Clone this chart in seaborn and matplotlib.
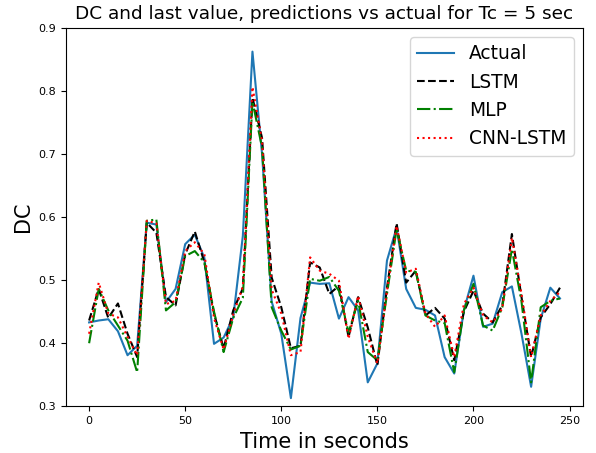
import numpy as np
import pandas as pd
import matplotlib
matplotlib.use('Agg')
import matplotlib.pyplot as plt
import seaborn as sns

# time axis, one point every 5 seconds
time_sec = list(range(0, 250, 5))

actual = [0.433, 0.436, 0.438, 0.419, 0.381, 0.396, 0.591, 0.588, 0.465, 0.486,
          0.557, 0.572, 0.535, 0.399, 0.409, 0.441, 0.570, 0.862, 0.700, 0.466,
          0.415, 0.313, 0.440, 0.496, 0.494, 0.495, 0.439, 0.473, 0.452, 0.338,
          0.368, 0.531, 0.583, 0.486, 0.456, 0.453, 0.444, 0.378, 0.352, 0.452,
          0.507, 0.426, 0.431, 0.481, 0.490, 0.415, 0.331, 0.439, 0.488, 0.471]

lstm = [0.436, 0.486, 0.440, 0.463, 0.415, 0.378, 0.591, 0.575, 0.473, 0.460,
        0.541, 0.577, 0.528, 0.447, 0.392, 0.452, 0.487, 0.789, 0.725, 0.504,
        0.457, 0.392, 0.396, 0.528, 0.520, 0.478, 0.491, 0.410, 0.473, 0.425,
        0.365, 0.488, 0.590, 0.496, 0.515, 0.444, 0.456, 0.439, 0.373, 0.450,
        0.483, 0.447, 0.433, 0.460, 0.573, 0.473, 0.378, 0.441, 0.462, 0.488]

mlp = [0.400, 0.486, 0.452, 0.428, 0.404, 0.354, 0.594, 0.596, 0.452, 0.465,
       0.538, 0.546, 0.528, 0.450, 0.386, 0.440, 0.472, 0.783, 0.710, 0.457,
       0.420, 0.390, 0.396, 0.502, 0.499, 0.505, 0.483, 0.417, 0.467, 0.386,
       0.373, 0.478, 0.581, 0.515, 0.513, 0.444, 0.436, 0.432, 0.354, 0.452,
       0.494, 0.428, 0.420, 0.457, 0.549, 0.466, 0.338, 0.457, 0.467, 0.471]

cnn_lstm = [0.415, 0.496, 0.447, 0.441, 0.410, 0.381, 0.594, 0.590, 0.462, 0.467,
            0.546, 0.560, 0.541, 0.440, 0.390, 0.445, 0.490, 0.806, 0.720, 0.485,
            0.447, 0.381, 0.386, 0.536, 0.515, 0.510, 0.499, 0.407, 0.475, 0.410,
            0.368, 0.483, 0.586, 0.512, 0.518, 0.447, 0.426, 0.444, 0.378, 0.462,
            0.488, 0.444, 0.433, 0.455, 0.567, 0.478, 0.378, 0.444, 0.467, 0.481]

df = pd.DataFrame({'Time': time_sec, 'Actual': actual, 'LSTM': lstm,
                   'MLP': mlp, 'CNN-LSTM': cnn_lstm})

fig, ax = plt.subplots(figsize=(5.96, 4.53), dpi=100)

# one line per series, styled like the original
sns.lineplot(x='Time', y='Actual', data=df, ax=ax, color='#1f77b4', label='Actual')
sns.lineplot(x='Time', y='LSTM', data=df, ax=ax, color='black', linestyle='--', label='LSTM')
sns.lineplot(x='Time', y='MLP', data=df, ax=ax, color='green', linestyle='-.', label='MLP')
sns.lineplot(x='Time', y='CNN-LSTM', data=df, ax=ax, color='red', linestyle=':', label='CNN-LSTM')

ax.set_ylim(0.3, 0.9)
ax.set_xticks([0, 50, 100, 150, 200, 250])
ax.tick_params(labelsize=8)
ax.set_title('DC and last value, predictions vs actual for Tc = 5 sec', fontsize=13.3)
ax.set_xlabel('Time in seconds', fontsize=15)
ax.set_ylabel('DC', fontsize=15)
ax.legend(loc='upper right', fontsize=13.4)

plt.subplots_adjust(left=0.11, right=0.979, top=0.939, bottom=0.103)
plt.savefig('out.png')
